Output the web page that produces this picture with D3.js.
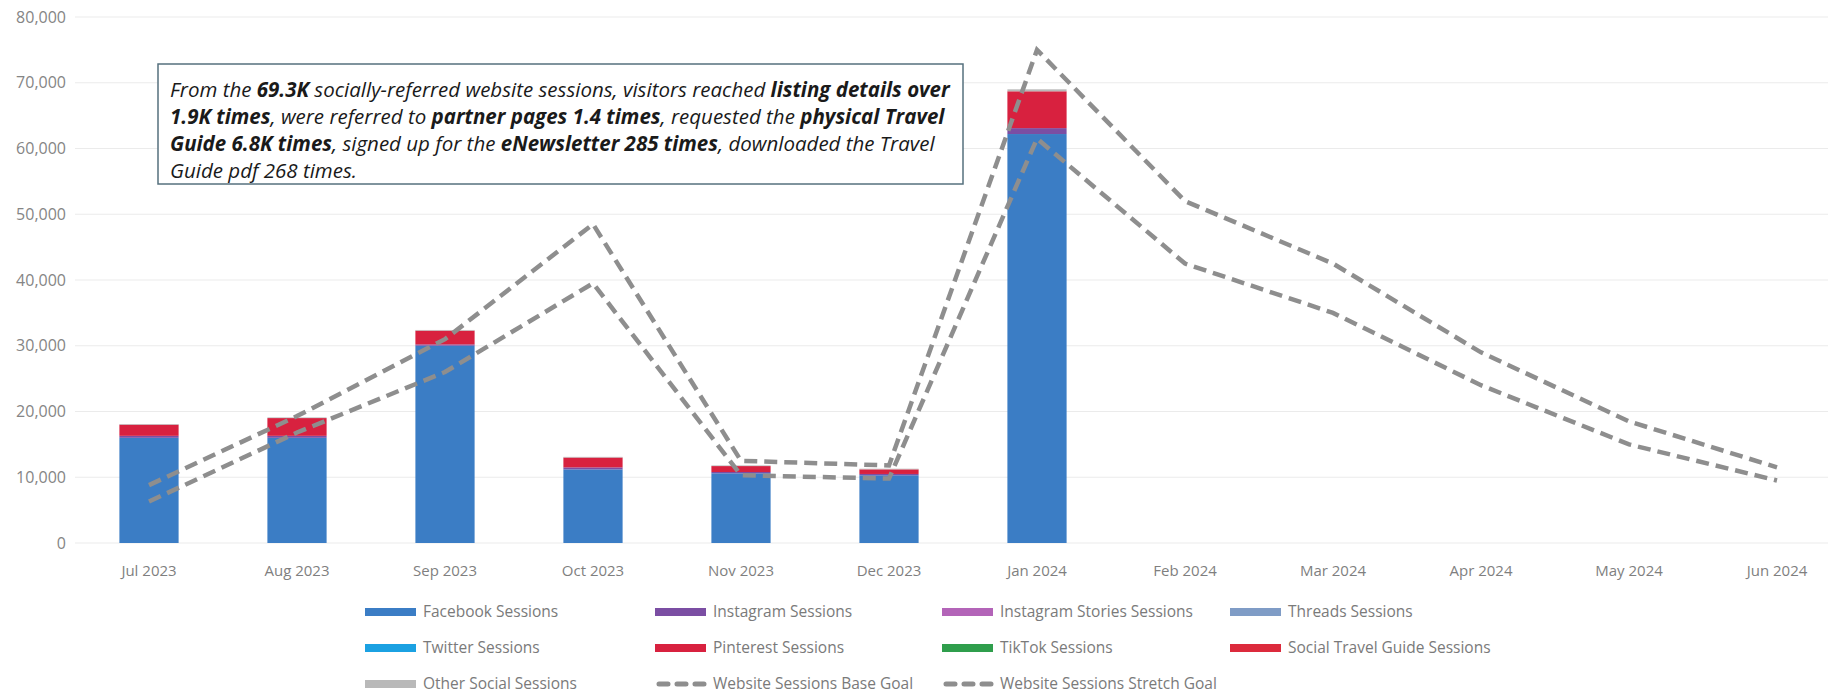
<!DOCTYPE html>
<html>
<head>
<meta charset="utf-8">
<script src="https://cdn.jsdelivr.net/npm/d3@7"></script>
<style>
  body{margin:0;background:#fff;}
  text{font-family:'Open Sans',sans-serif;}
</style>
</head>
<body>
<script>
// months on the x axis
var months=['Jul 2023','Aug 2023','Sep 2023','Oct 2023','Nov 2023','Dec 2023',
    'Jan 2024','Feb 2024','Mar 2024','Apr 2024','May 2024','Jun 2024'];
// stacked session series (bars)
var facebook=[16000,16000,30000,11200,10600,10300,62200,0,0,0,0,0];
var instagram=[300,300,200,300,200,200,900,0,0,0,0,0];
var instagramStories=[0,0,0,0,0,0,0,0,0,0,0,0];
var threads=[0,0,0,0,0,0,0,0,0,0,0,0];
var twitter=[0,0,0,0,0,0,0,0,0,0,0,0];
var pinterest=[1700,2700,2100,1500,900,700,5600,0,0,0,0,0];
var tiktok=[0,0,0,0,0,0,0,0,0,0,0,0];
var travelGuide=[0,0,0,0,0,0,0,0,0,0,0,0];
var otherSocial=[100,100,100,100,100,100,300,0,0,0,0,0];
// goal lines
var baseGoal=[6300,16800,26000,39500,10300,9800,61500,42500,35000,24000,15000,9500];
var stretchGoal=[8800,19300,31000,48500,12500,11800,75000,52000,42500,29000,18500,11500];
var yTicks=[0,10000,20000,30000,40000,50000,60000,70000,80000];

var barSeries=[
    {name:'Facebook Sessions',values:facebook,color:'#3b7dc5'},
    {name:'Instagram Sessions',values:instagram,color:'#7b4ea3'},
    {name:'Instagram Stories Sessions',values:instagramStories,color:'#b364b8'},
    {name:'Threads Sessions',values:threads,color:'#7f9cc6'},
    {name:'Twitter Sessions',values:twitter,color:'#1ba1e2'},
    {name:'Pinterest Sessions',values:pinterest,color:'#d8213f'},
    {name:'TikTok Sessions',values:tiktok,color:'#2f9e4c'},
    {name:'Social Travel Guide Sessions',values:travelGuide,color:'#dc2a3c'},
    {name:'Other Social Sessions',values:otherSocial,color:'#b9b9b9'}
];
var lineSeries=[
    {name:'Website Sessions Base Goal',values:baseGoal},
    {name:'Website Sessions Stretch Goal',values:stretchGoal}
];

var W=1828,H=697;
var svg=d3.select('body').append('svg').attr('width',W).attr('height',H);

var x=d3.scaleBand().domain(months).range([75,1851]).paddingInner(0.6).paddingOuter(0.3);
var y=d3.scaleLinear().domain([0,80000]).range([543,17]);

// gridlines
svg.append('g').selectAll('line').data(yTicks).enter().append('line')
    .attr('x1',75).attr('x2',W)
    .attr('y1',function(d){return y(d);}).attr('y2',function(d){return y(d);})
    .attr('stroke','#ebebeb').attr('stroke-width',1);

// y axis
var yAxis=svg.append('g').attr('transform','translate(70,0)')
    .call(d3.axisLeft(y).tickValues(yTicks).tickSize(0).tickPadding(4).tickFormat(d3.format(',')));
yAxis.select('.domain').remove();
yAxis.selectAll('text').attr('fill','#858585').style('font-size','16px');

// x axis
var xAxis=svg.append('g').attr('transform','translate(0,543)')
    .call(d3.axisBottom(x).tickSize(0).tickPadding(22));
xAxis.select('.domain').remove();
xAxis.selectAll('text').attr('fill','#7f7f7f').style('font-size','15px');

// stacked bars
var rows=months.map(function(m,i){
    var r={month:m};
    barSeries.forEach(function(s){r[s.name]=s.values[i];});
    return r;
});
var stack=d3.stack().keys(barSeries.map(function(s){return s.name;}));
var layers=stack(rows);
svg.append('g').selectAll('g').data(layers).enter().append('g')
    .attr('fill',function(d,i){return barSeries[i].color;})
    .selectAll('rect').data(function(d){return d;}).enter().append('rect')
    .attr('x',function(d){return x(d.data.month);})
    .attr('width',x.bandwidth())
    .attr('y',function(d){return y(d[1]);})
    .attr('height',function(d){return y(d[0])-y(d[1]);});

// dashed goal lines
var line=d3.line()
    .x(function(d,i){return x(months[i])+x.bandwidth()/2;})
    .y(function(d){return y(d);});
svg.append('g').selectAll('path').data(lineSeries).enter().append('path')
    .attr('d',function(d){return line(d.values);})
    .attr('fill','none')
    .attr('stroke','#8e8e8e')
    .attr('stroke-width',4.5)
    .attr('stroke-dasharray','13,7');

// annotation box
var note=svg.append('g');
note.append('rect').attr('x',158).attr('y',64).attr('width',805).attr('height',120)
    .attr('fill','#fff').attr('stroke','#56707e').attr('stroke-width',1.5);
var noteLines=[
    [['From the ',0],['69.3K',1],[' socially-referred website sessions, visitors reached ',0],['listing details over',1]],
    [['1.9K times',1],[', were referred to ',0],['partner pages 1.4 times',1],[', requested the ',0],['physical Travel',1]],
    [['Guide 6.8K times',1],[', signed up for the ',0],['eNewsletter 285 times',1],[', downloaded the Travel',0]],
    [['Guide pdf 268 times.',0]]
];
noteLines.forEach(function(parts,i){
    var t=note.append('text').attr('x',170).attr('y',97+i*27)
        .attr('fill','#1a1a1a').style('font-size','20.5px').style('font-style','italic');
    parts.forEach(function(p){
        t.append('tspan').text(p[0]).style('font-weight',p[1]?'700':'400');
    });
});

// legend
var legendItems=barSeries.map(function(s){return {name:s.name,color:s.color,dash:false};})
    .concat(lineSeries.map(function(s){return {name:s.name,color:'#8e8e8e',dash:true};}));
var colX=[365,655,942,1230];
var rowY=[612,648,684];
var leg=svg.append('g').selectAll('g').data(legendItems).enter().append('g')
    .attr('transform',function(d,i){return 'translate('+colX[i%4]+','+rowY[Math.floor(i/4)]+')';});
leg.each(function(d){
    var g=d3.select(this);
    if(d.dash){
        g.append('line').attr('x1',4).attr('x2',50).attr('y1',0).attr('y2',0)
            .attr('stroke',d.color).attr('stroke-width',5).attr('stroke-linecap','round')
            .attr('stroke-dasharray','9,9');
    }else{
        g.append('rect').attr('x',0).attr('y',-4).attr('width',51).attr('height',8).attr('fill',d.color);
    }
    g.append('text').attr('x',58).attr('y',0).attr('dy','0.35em')
        .attr('fill','#7a7a7a').style('font-size','15.5px').text(d.name);
});
</script>
</body>
</html>
